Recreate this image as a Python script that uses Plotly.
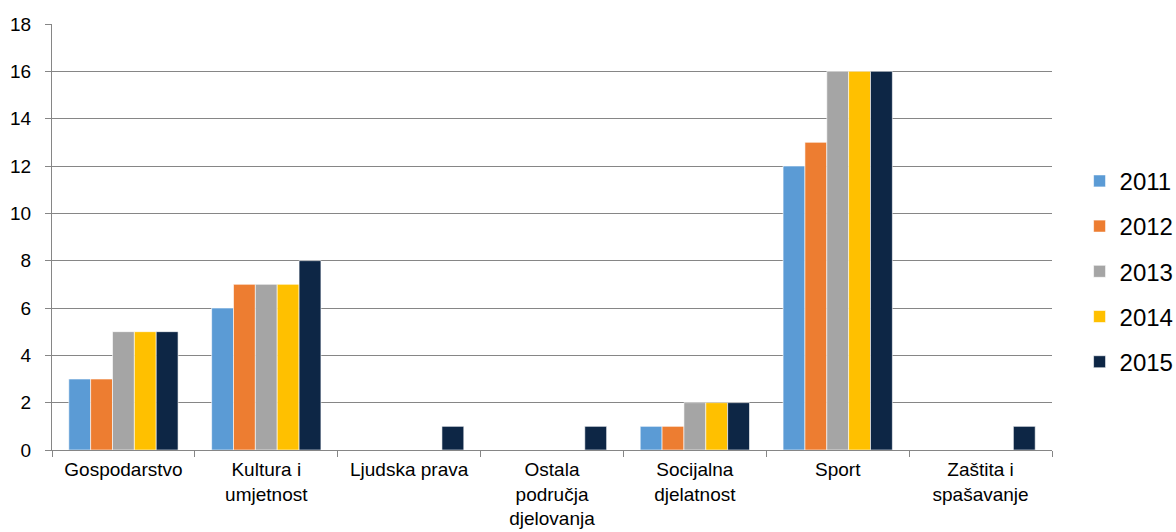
import plotly.graph_objects as go

# Categories and values per year
categories = ['Gospodarstvo', 'Kultura i<br>umjetnost', 'Ljudska prava',
              'Ostala<br>područja<br>djelovanja', 'Socijalna<br>djelatnost',
              'Sport', 'Zaštita i<br>spašavanje']
years = ['2011', '2012', '2013', '2014', '2015']
v2011 = [3, 6, 0, 0, 1, 12, 0]
v2012 = [3, 7, 0, 0, 1, 13, 0]
v2013 = [5, 7, 0, 0, 2, 16, 0]
v2014 = [5, 7, 0, 0, 2, 16, 0]
v2015 = [5, 8, 1, 1, 2, 16, 1]
series = [v2011, v2012, v2013, v2014, v2015]
colors = ['#5B9BD5', '#ED7D31', '#A5A5A5', '#FFC000', '#0D2645']

fig = go.Figure()
for year, vals, col in zip(years, series, colors):
    fig.add_trace(go.Bar(
        x=categories, y=vals, name=year, legendgroup=year,
        marker=dict(color=col, line=dict(color='white', width=0.6))
    ))

axis_gray = '#868686'
fig.update_layout(
    width=1176, height=532,
    barmode='group',
    bargap=0.235,
    bargroupgap=0,
    paper_bgcolor='white', plot_bgcolor='white',
    margin=dict(l=52, r=124, t=24, b=82),
    font=dict(family='Liberation Sans, Arial, sans-serif', color='black', size=19),
    legend=dict(xref='container', yref='container', x=0.918, y=0.49,
                yanchor='middle', xanchor='left',
                font=dict(size=24), traceorder='grouped', tracegroupgap=11,
                itemwidth=30),
    xaxis=dict(showline=True, linecolor=axis_gray, linewidth=1,
               tickson='boundaries', ticks='outside', ticklen=6, tickcolor=axis_gray,
               tickfont=dict(size=19), ticklabelstandoff=2, automargin=False),
    yaxis=dict(range=[0, 18], dtick=2, showgrid=True, gridcolor=axis_gray, gridwidth=1,
               showline=True, linecolor=axis_gray, ticks='outside', ticklen=6,
               tickcolor=axis_gray, tickfont=dict(size=19), ticklabelstandoff=10,
               zeroline=False, automargin=False),
)

# drop the default body margin so the figure fills the window exactly
fig.write_html("out.html", config={'displayModeBar': False},
               post_script="document.body.style.margin='0';")
